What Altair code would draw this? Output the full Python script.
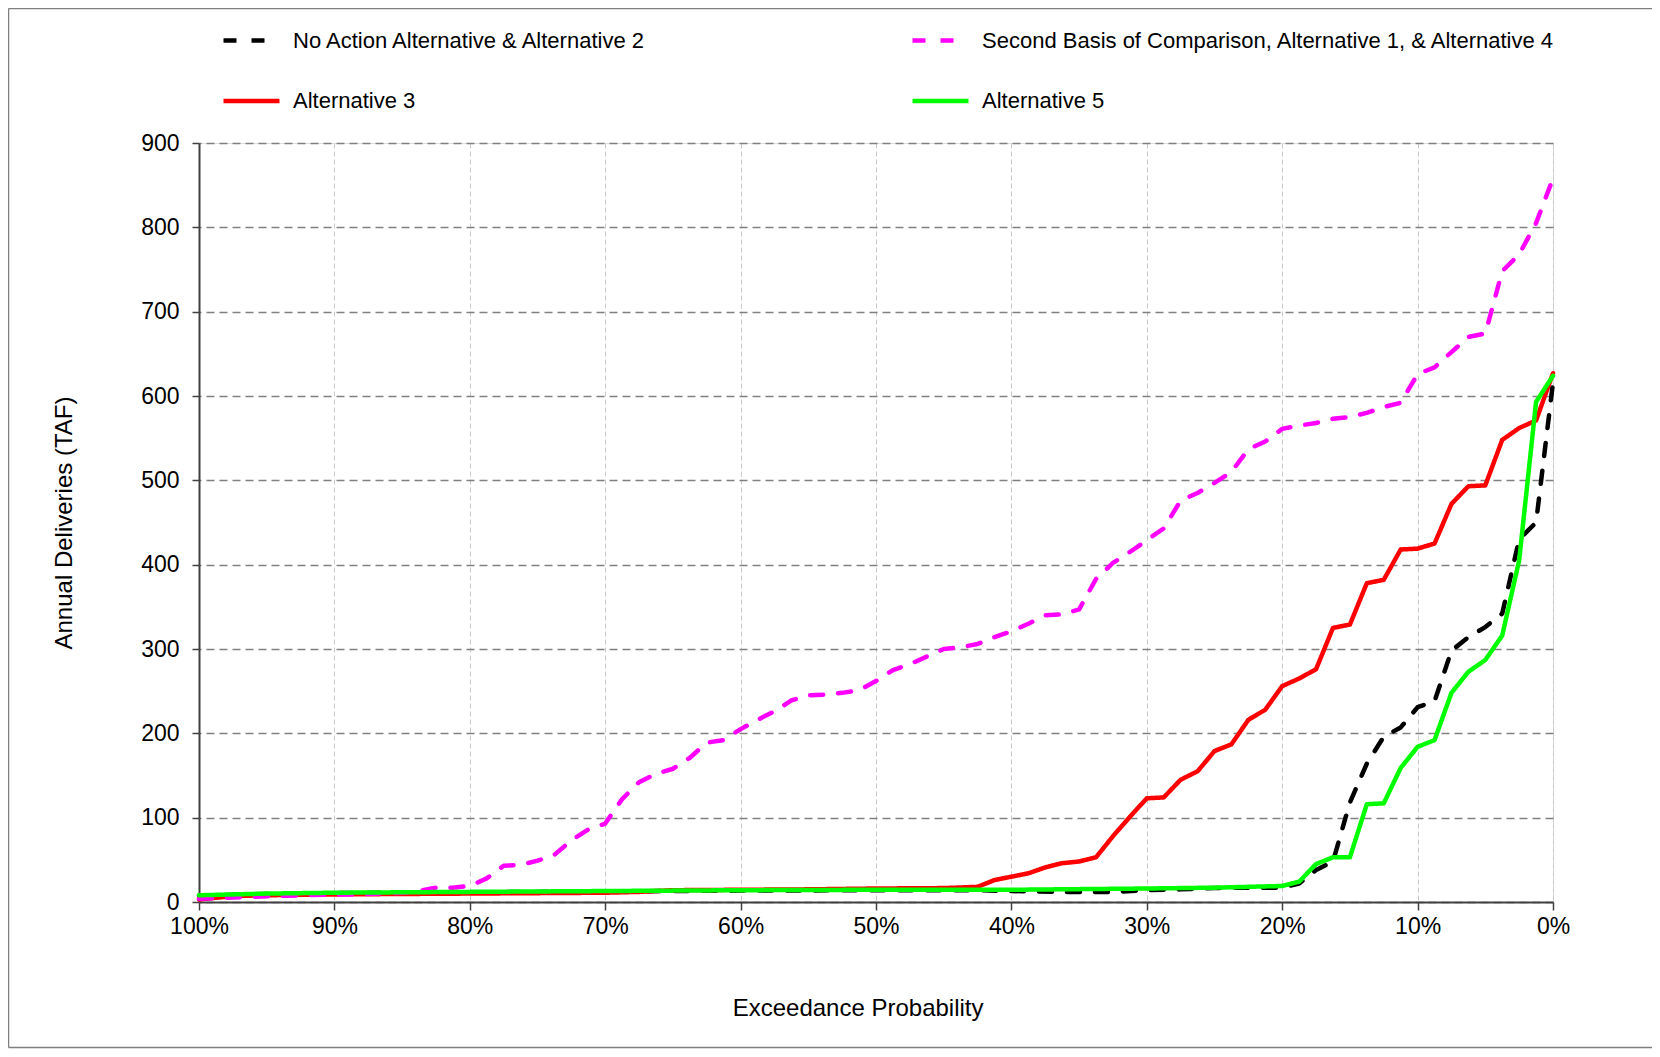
import altair as alt
import pandas as pd

# ---- data ----
series_names = [
    "No Action Alternative & Alternative 2",
    "Second Basis of Comparison, Alternative 1, & Alternative 4",
    "Alternative 3",
    "Alternative 5",
]
series_colors = ["#000000", "#FF00FF", "#FF0000", "#00FF00"]

x_ticks = [100, 90, 80, 70, 60, 50, 40, 30, 20, 10, 0]
y_ticks = [0, 100, 200, 300, 400, 500, 600, 700, 800, 900]

na_x = [100, 95, 90, 80, 70, 60, 50, 42.5, 40, 36.25, 32.5, 30, 27.5, 25, 22.5, 20,
        18.75, 17.5, 16.25, 15, 13.75, 12.5, 11.25, 10, 8.75, 7.5, 6.25, 5, 3.75, 2.5, 1.25, 0]
na_y = [7.5, 9.5, 10.5, 11.5, 12.5, 13.5, 14, 14, 13, 12, 12, 14, 15, 16.5, 17, 17,
        22, 38, 48, 118, 164, 196, 207, 231, 238, 298, 314, 326, 342, 430, 450, 616]

sb_x = [100, 96.25, 92.5, 88.75, 85, 83.75, 82.5, 81.25, 80, 78.75, 77.5, 76.25, 75,
        73.75, 72.5, 71.25, 70, 68.75, 67.5, 66.25, 65, 63.75, 62.5, 61.25, 60, 58.75,
        57.5, 56.25, 55, 53.75, 52.5, 51.25, 50, 48.75, 47.5, 46.25, 45, 43.75, 42.5,
        41.25, 40, 38.75, 37.5, 36.25, 35, 33.75, 32.5, 31.25, 30, 28.75, 27.5, 26.25,
        25, 23.75, 22.5, 21.25, 20, 18.75, 17.5, 16.25, 15, 13.75, 12.5, 11.25, 10,
        8.75, 7.5, 6.25, 5, 3.75, 2.5, 1.25, 0]
sb_y = [4, 6, 8, 9, 11, 13, 17, 17, 19, 28, 43, 44, 49,
        56, 73, 86, 93, 122, 142, 152, 158, 171, 189, 192, 205, 216,
        226, 239, 245, 246, 248, 251, 262, 275, 282, 291, 300, 302, 306,
        314, 321, 330, 340, 341, 347, 383, 402, 415, 429, 443, 476, 485,
        497, 510, 537, 546, 561, 565, 568, 573, 575, 580, 587, 592, 626,
        634, 652, 670, 674, 748, 768, 805, 858]

a3_x = [100, 98.75, 97.5, 95, 90, 85, 80, 75, 70, 67.5, 65, 60, 55, 50, 45, 42.5, 41.25,
        40, 38.75, 37.5, 36.25, 35, 33.75, 32.5, 31.25, 30, 28.75, 27.5, 26.25, 25, 23.75,
        22.5, 21.25, 20, 18.75, 17.5, 16.25, 15, 13.75, 12.5, 11.25, 10, 8.75, 7.5, 6.25,
        5, 3.75, 2.5, 1.25, 0]
a3_y = [3, 5, 7, 8, 9, 9.5, 10, 10.5, 11, 12, 14, 14.5, 15, 16, 16.5, 18, 26,
        30, 34, 41, 46, 48, 53, 78, 101, 123, 124, 145, 155, 179, 187,
        216, 228, 256, 265, 276, 325, 329, 378, 382, 418, 419, 425, 472, 493,
        494, 548, 562, 571, 627]

a5_x = [100, 95, 90, 85, 80, 75, 70, 60, 50, 40, 30, 25, 20, 18.75, 17.5, 16.25, 15,
        13.75, 12.5, 11.25, 10, 8.75, 7.5, 6.25, 5, 3.75, 2.5, 1.25, 0]
a5_y = [8, 10, 11, 11.5, 12, 12.5, 13, 14, 14.5, 14.5, 16, 17, 19, 24, 45, 53, 53,
        116, 117, 159, 184, 192, 248, 273, 287, 316, 405, 593, 624]


def frame(xs, ys, name):
    return pd.DataFrame({"pct": xs, "val": ys, "series": name})


df1 = pd.concat([frame(na_x, na_y, series_names[0]), frame(a3_x, a3_y, series_names[2])])
df2 = pd.concat([frame(sb_x, sb_y, series_names[1]), frame(a5_x, a5_y, series_names[3])])

FONT = "Liberation Sans"
W, H = 1354, 759

x_enc = alt.X(
    "pct:Q",
    scale=alt.Scale(domain=[0, 100], reverse=True, nice=False, zero=False),
    axis=alt.Axis(
        values=x_ticks, labelExpr="datum.value + '%'", title="Exceedance Probability",
        grid=True, gridColor="#c8c8c8", gridDash=[5, 3], gridWidth=1,
        tickSize=8, tickColor="#404040", tickWidth=1.5,
        domainColor="#404040", domainWidth=2,
        labelPadding=5, labelFlush=False, labelOverlap=False,
        labelFont=FONT, labelFontSize=23, labelColor="#000000",
        titleFont=FONT, titleFontSize=24, titleFontWeight="normal", titleColor="#000000",
        titleX=658.6, titleY=106, titleAlign="center", titleBaseline="middle",
    ),
)
y_enc = alt.Y(
    "val:Q",
    scale=alt.Scale(domain=[0, 900], nice=False),
    axis=alt.Axis(
        values=y_ticks, title="Annual Deliveries (TAF)",
        grid=True, gridColor="#808080", gridDash=[8, 5], gridWidth=1.5,
        tickSize=7, tickColor="#404040", tickWidth=1.5,
        domainColor="#404040", domainWidth=2,
        labelPadding=13, labelFont=FONT, labelFontSize=23, labelColor="#000000",
        titleFont=FONT, titleFontSize=24, titleFontWeight="normal", titleColor="#000000",
        titleX=-134.5, titleY=H / 2, titleAlign="center", titleBaseline="middle",
        titleAngle=270,
    ),
)


def legend(xpos):
    return alt.Legend(
        title=None, orient="none", legendX=xpos, legendY=-133, direction="vertical",
        symbolType="stroke", symbolSize=3136, symbolStrokeWidth=4.5,
        labelFont=FONT, labelFontSize=22, labelColor="#000000", labelOffset=11,
        labelLimit=800, rowPadding=18.5, padding=0,
    )


DASH = [13, 15]
SOLID = [1, 0]

lines1 = alt.Chart(df1).mark_line(strokeWidth=4.5, strokeCap="round", strokeJoin="round").encode(
    x=x_enc, y=y_enc,
    color=alt.Color("series:N", scale=alt.Scale(domain=[series_names[0], series_names[2]],
                                                range=[series_colors[0], series_colors[2]]),
                    legend=legend(22)),
    strokeDash=alt.StrokeDash("series:N", scale=alt.Scale(domain=[series_names[0], series_names[2]],
                                                          range=[DASH, SOLID]),
                              legend=legend(22)),
)
lines2 = alt.Chart(df2).mark_line(strokeWidth=4.5, strokeCap="round", strokeJoin="round").encode(
    x=x_enc, y=y_enc,
    color=alt.Color("series:N", scale=alt.Scale(domain=[series_names[1], series_names[3]],
                                                range=[series_colors[1], series_colors[3]]),
                    legend=legend(711)),
    strokeDash=alt.StrokeDash("series:N", scale=alt.Scale(domain=[series_names[1], series_names[3]],
                                                          range=[DASH, SOLID]),
                              legend=legend(711)),
)

one = pd.DataFrame({"k": [0]})
FR = "#7f7f7f"
frame_left = alt.Chart(one).mark_rule(color=FR, strokeWidth=1.5).encode(
    x=alt.value(-190.5), y=alt.value(-134.5), y2=alt.value(904.5))
frame_top = alt.Chart(one).mark_rule(color=FR, strokeWidth=1.5).encode(
    x=alt.value(-190.5), x2=alt.value(1453), y=alt.value(-134.5))
frame_bottom = alt.Chart(one).mark_rule(color=FR, strokeWidth=1.5).encode(
    x=alt.value(-190.5), x2=alt.value(1453), y=alt.value(904.5))

chart = alt.layer(frame_left, frame_top, frame_bottom, lines1, lines2).resolve_scale(
    color="independent", strokeDash="independent"
).properties(
    width=W, height=H,
    autosize=alt.AutoSizeParams(type="none"),
    padding={"left": 191, "top": 135, "right": 99, "bottom": 147},
).configure_view(
    stroke="#808080", strokeWidth=1.5
).configure(background="#ffffff")

chart.save("out.html", embed_options={"renderer": "svg", "actions": False})
